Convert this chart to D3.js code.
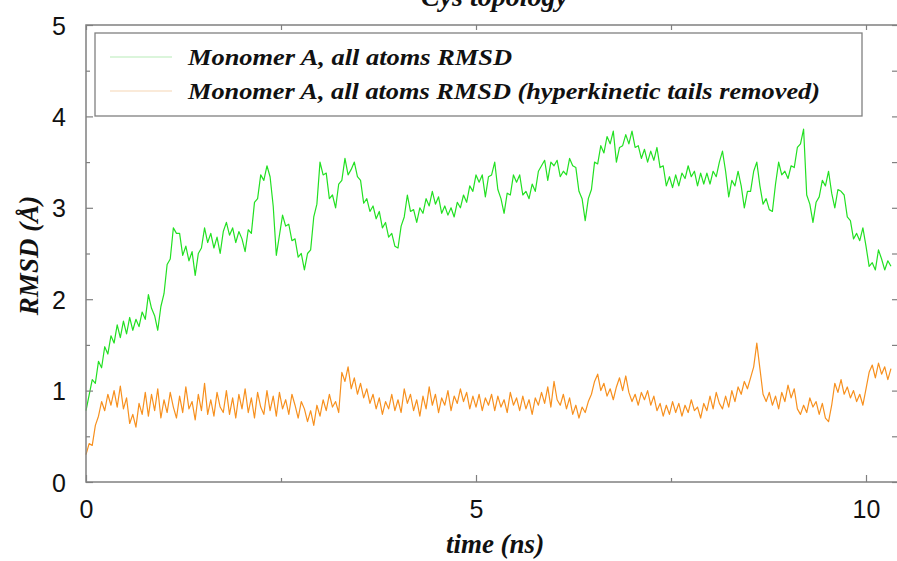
<!DOCTYPE html>
<html>
<head>
<meta charset="utf-8">
<script src="https://cdn.jsdelivr.net/npm/d3@7"></script>
<style>
  html, body { margin: 0; padding: 0; background: #fff; }
  svg { display: block; }
</style>
</head>
<body>
<svg id="chart" width="897" height="561"></svg>
<script>
// ---- data ----
const chartTitle = "Cys topology";
const xLabel = "time (ns)";
const yLabel = "RMSD (Å)";
const seriesNames = [
  "Monomer A, all atoms RMSD",
  "Monomer A, all atoms RMSD (hyperkinetic tails removed)"
];
const timeStep = 0.04; // ns between samples
const xTicks = [0, 5, 10];
const xMinorTicks = [2.5, 7.5];
const yTicks = [0, 1, 2, 3, 4, 5];
const yMinorTicks = [0.5, 1.5, 2.5, 3.5, 4.5];

const allAtomsRMSD = [
  0.78, 0.95, 1.12, 1.08, 1.32, 1.25, 1.48, 1.40, 1.60, 1.52,
  1.72, 1.58, 1.76, 1.62, 1.80, 1.66, 1.78, 1.70, 1.86, 1.78,
  2.05, 1.90, 1.82, 1.66, 1.92, 2.06, 2.38, 2.44, 2.78, 2.72,
  2.72, 2.48, 2.58, 2.42, 2.52, 2.26, 2.50, 2.56, 2.78, 2.62,
  2.72, 2.56, 2.68, 2.50, 2.74, 2.84, 2.70, 2.78, 2.62, 2.74,
  2.66, 2.52, 2.76, 2.72, 3.06, 3.10, 3.36, 3.30, 3.46, 3.34,
  3.02, 2.48, 2.70, 2.92, 2.80, 2.82, 2.64, 2.66, 2.46, 2.50,
  2.32, 2.50, 2.54, 2.90, 3.04, 3.50, 3.36, 3.38, 3.10, 3.14,
  3.00, 3.26, 3.30, 3.54, 3.36, 3.42, 3.50, 3.34, 3.30, 3.05,
  3.10, 2.96, 3.02, 2.88, 2.96, 2.78, 2.84, 2.68, 2.72, 2.58,
  2.56, 2.80, 2.90, 3.14, 2.96, 2.98, 2.84, 3.00, 2.94, 3.10,
  3.02, 3.18, 3.04, 3.12, 2.94, 3.02, 2.92, 3.00, 2.90, 3.06,
  3.00, 3.14, 3.06, 3.24, 3.18, 3.36, 3.28, 3.36, 3.12, 3.34,
  3.36, 3.50, 3.20, 3.10, 2.94, 3.16, 3.14, 3.36, 3.28, 3.36,
  3.14, 3.18, 3.10, 3.26, 3.18, 3.40, 3.46, 3.52, 3.30, 3.50,
  3.46, 3.52, 3.34, 3.40, 3.36, 3.54, 3.46, 3.44, 3.18, 3.10,
  2.86, 3.10, 3.20, 3.50, 3.48, 3.68, 3.60, 3.78, 3.70, 3.84,
  3.50, 3.66, 3.68, 3.80, 3.70, 3.84, 3.66, 3.68, 3.54, 3.64,
  3.50, 3.62, 3.52, 3.66, 3.44, 3.46, 3.24, 3.34, 3.22, 3.36,
  3.24, 3.38, 3.32, 3.46, 3.34, 3.40, 3.24, 3.38, 3.26, 3.38,
  3.26, 3.40, 3.34, 3.50, 3.62, 3.40, 3.12, 3.30, 3.24, 3.40,
  3.24, 3.00, 3.18, 3.18, 3.40, 3.50, 3.24, 3.04, 3.10, 2.98,
  2.96, 3.26, 3.50, 3.36, 3.40, 3.32, 3.46, 3.44, 3.66, 3.70,
  3.86, 3.14, 3.04, 2.84, 3.06, 3.12, 3.30, 3.24, 3.40, 3.16,
  3.00, 3.20, 3.18, 3.14, 2.90, 2.86, 2.66, 2.72, 2.64, 2.78,
  2.58, 2.36, 2.40, 2.32, 2.54, 2.44, 2.32, 2.42, 2.36
];

const tailsRemovedRMSD = [
  0.30, 0.42, 0.40, 0.62, 0.72, 0.88, 0.78, 0.96, 0.84, 1.00,
  0.82, 1.05, 0.80, 0.92, 0.64, 0.74, 0.60, 0.86, 0.74, 0.98,
  0.72, 0.96, 0.78, 1.02, 0.70, 0.90, 0.76, 0.98, 0.82, 0.70,
  0.94, 0.76, 1.04, 0.80, 0.88, 0.68, 0.96, 0.78, 1.08, 0.74,
  0.90, 0.72, 0.98, 0.82, 0.76, 1.00, 0.74, 0.92, 0.70, 0.96,
  0.80, 1.02, 0.76, 0.92, 0.70, 0.98, 0.82, 0.74, 1.00, 0.78,
  0.94, 0.72, 0.98, 0.80, 0.90, 0.74, 0.96, 0.84, 0.70, 0.88,
  0.80, 0.66, 0.78, 0.62, 0.84, 0.72, 0.90, 0.78, 0.96, 0.82,
  0.88, 0.76, 1.20, 1.10, 1.26, 1.02, 1.14, 0.96, 1.08, 0.92,
  1.02, 0.86, 0.96, 0.80, 0.92, 0.74, 0.88, 0.80, 0.96, 0.78,
  0.90, 0.76, 1.02, 0.86, 0.96, 0.78, 0.90, 0.72, 0.94, 0.80,
  1.04, 0.84, 0.96, 0.76, 0.92, 0.84, 1.00, 0.78, 0.94, 0.86,
  1.02, 0.88, 0.98, 0.80, 0.94, 0.82, 0.96, 0.78, 0.92, 0.84,
  0.96, 0.78, 0.94, 0.82, 0.90, 0.76, 0.98, 0.84, 0.92, 0.78,
  0.94, 0.80, 0.90, 0.74, 0.92, 0.84, 0.98, 0.86, 1.04, 0.82,
  1.10, 0.90, 0.84, 0.96, 0.80, 0.92, 0.74, 0.84, 0.70, 0.82,
  0.76, 0.88, 0.96, 1.10, 1.18, 1.00, 1.08, 0.94, 1.02, 0.90,
  1.04, 1.14, 1.00, 1.16, 0.98, 0.88, 0.96, 0.84, 0.98, 0.90,
  1.00, 0.84, 0.94, 0.78, 0.86, 0.72, 0.84, 0.74, 0.88, 0.76,
  0.86, 0.72, 0.84, 0.76, 0.90, 0.78, 0.82, 0.70, 0.86, 0.78,
  0.94, 0.80, 0.98, 0.86, 0.80, 0.94, 0.82, 1.00, 0.88, 1.04,
  0.96, 1.10, 1.02, 1.14, 1.26, 1.52, 1.24, 0.96, 0.88, 0.98,
  0.84, 0.94, 0.80, 0.98, 0.88, 1.06, 0.92, 1.02, 0.80, 0.74,
  0.84, 0.76, 0.92, 0.82, 0.88, 0.74, 0.86, 0.70, 0.66, 0.84,
  1.08, 0.98, 1.12, 0.96, 1.04, 0.92, 1.00, 0.88, 0.96, 0.84,
  1.02, 1.20, 1.28, 1.14, 1.30, 1.18, 1.26, 1.12, 1.24
];

const seriesColors = ["#22e022", "#f7901e"];
const legendColors = ["#b8ecb8", "#f6d6b4"];

// ---- layout ----
const svg = d3.select("#chart");
const mLeft = 86, mRight = 899, mTop = 25, mBottom = 482;

const x = d3.scaleLinear().domain([0, 10.423]).range([mLeft, mRight]);
const y = d3.scaleLinear().domain([0, 5]).range([mBottom, mTop]);

const axisColor = "#808080";
const serif = "'Liberation Serif', 'Times New Roman', serif";
const sans = "'Liberation Sans', Arial, Helvetica, sans-serif";

// data lines
const series = [allAtomsRMSD, tailsRemovedRMSD];
const line = d3.line().x((d, i) => x(i * timeStep)).y(d => y(d));
series.forEach((vals, k) => {
  svg.append("path")
    .datum(vals)
    .attr("fill", "none")
    .attr("stroke", seriesColors[k])
    .attr("stroke-width", 1.2)
    .attr("stroke-linejoin", "round")
    .attr("d", line);
});

// frame
svg.append("rect")
  .attr("x", mLeft).attr("y", mTop)
  .attr("width", mRight - mLeft).attr("height", mBottom - mTop)
  .attr("fill", "none").attr("stroke", axisColor).attr("stroke-width", 1.5);

// axes with inward ticks
const gx = svg.append("g").attr("transform", `translate(0,${mBottom})`)
  .call(d3.axisBottom(x).tickValues(xTicks).tickSize(-7).tickPadding(18).tickFormat(d3.format("d")));
const gxm = svg.append("g").attr("transform", `translate(0,${mBottom})`)
  .call(d3.axisBottom(x).tickValues(xMinorTicks).tickSize(-4).tickFormat(""));
const gxt = svg.append("g").attr("transform", `translate(0,${mTop})`)
  .call(d3.axisTop(x).tickValues(xTicks.concat(xMinorTicks)).tickSize(-5).tickFormat(""));
const gy = svg.append("g").attr("transform", `translate(${mLeft},0)`)
  .call(d3.axisLeft(y).tickValues(yTicks).tickSize(-7).tickPadding(20).tickFormat(d3.format("d")));
const gym = svg.append("g").attr("transform", `translate(${mLeft},0)`)
  .call(d3.axisLeft(y).tickValues(yMinorTicks).tickSize(-4).tickFormat(""));
const gyr = svg.append("g").attr("transform", `translate(${mRight},0)`)
  .call(d3.axisRight(y).tickValues(yTicks.concat(yMinorTicks)).tickSize(-7).tickFormat(""));

[gx, gxm, gxt, gy, gym, gyr].forEach(g => {
  g.select(".domain").remove();
  g.selectAll(".tick line").attr("stroke", axisColor).attr("stroke-width", 1.2);
  g.selectAll(".tick text").attr("fill", "#111").style("font-family", sans).style("font-size", "25px");
});
gy.selectAll(".tick text").attr("dy", "0.36em");

// legend
svg.append("rect")
  .attr("x", 95).attr("y", 33).attr("width", 767).attr("height", 83)
  .attr("fill", "#fff").attr("stroke", axisColor).attr("stroke-width", 1.3);
const legY = [57, 91];
const legTextLen = [324, 632];
seriesNames.forEach((name, k) => {
  svg.append("line")
    .attr("x1", 110).attr("x2", 172).attr("y1", legY[k]).attr("y2", legY[k])
    .attr("stroke", legendColors[k]).attr("stroke-width", 1.2);
  svg.append("text")
    .attr("x", 188).attr("y", legY[k] + 8)
    .attr("textLength", legTextLen[k]).attr("lengthAdjust", "spacingAndGlyphs")
    .style("font-family", serif).style("font-weight", "bold").style("font-style", "italic")
    .style("font-size", "24px").attr("fill", "#111")
    .text(name);
});

// titles
svg.append("text")
  .attr("x", (mLeft + mRight) / 2 + 2).attr("y", 6).attr("text-anchor", "middle")
  .style("font-family", serif).style("font-weight", "bold").style("font-style", "italic")
  .style("font-size", "28px").attr("fill", "#111").text(chartTitle);
svg.append("text")
  .attr("x", 495).attr("y", 553).attr("text-anchor", "middle")
  .style("font-family", serif).style("font-weight", "bold").style("font-style", "italic")
  .style("font-size", "27px").attr("fill", "#111").text(xLabel);
svg.append("text")
  .attr("transform", `translate(38,${(mTop + mBottom) / 2 + 2}) rotate(-90)`)
  .attr("text-anchor", "middle")
  .style("font-family", serif).style("font-weight", "bold").style("font-style", "italic")
  .style("font-size", "27px").attr("fill", "#111").text(yLabel);
</script>
</body>
</html>
